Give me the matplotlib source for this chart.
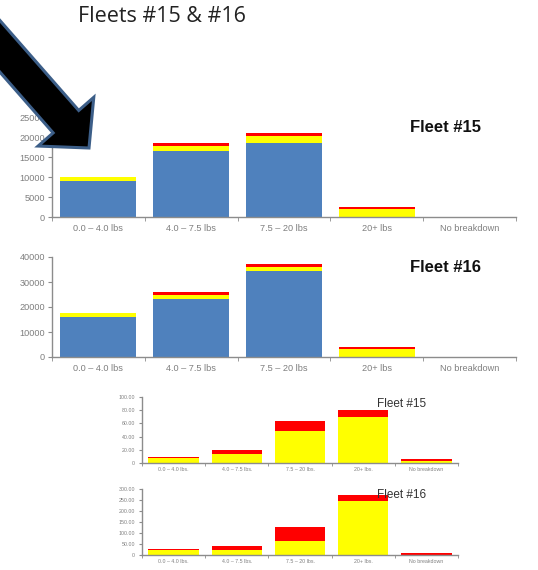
import matplotlib
matplotlib.use("Agg")
import matplotlib.pyplot as plt
import numpy as np
from matplotlib.patches import FancyArrow

# weight classes
classes_big = ["0.0 – 4.0 lbs", "4.0 – 7.5 lbs", "7.5 – 20 lbs", "20+ lbs", "No breakdown"]
classes_small = ["0.0 – 4.0 lbs.", "4.0 – 7.5 lbs.", "7.5 – 20 lbs.", "20+ lbs.", "No breakdown"]

# upper pair: counts
f15_blue = [8900, 16500, 18600, 0, 0]
f15_yellow = [1000, 1300, 1600, 2100, 0]
f15_red = [0, 700, 900, 300, 0]

f16_blue = [16200, 23200, 34500, 0, 0]
f16_yellow = [1300, 1700, 1500, 3300, 0]
f16_red = [0, 1300, 1300, 800, 0]

# lower pair: yellow / red only
f15s_yellow = [7.5, 14, 48.5, 69, 3]
f15s_red = [2, 6, 14.5, 12, 3]

f16s_yellow = [24, 24, 65, 244, 2]
f16s_red = [4, 15, 62, 27, 5]

BLUE, YELLOW, RED = "#4f81bd", "#ffff00", "#ff0000"
AXIS_GREY = "#8c8c8c"
LABEL_GREY = "#7f7f7f"

W, H = 538, 570
fig = plt.figure(figsize=(W / 100, H / 100), dpi=100)
plt.rcParams["font.family"] = ["Liberation Sans", "DejaVu Sans"]


def box(left, top, right, bottom):
    return [left / W, 1 - bottom / H, (right - left) / W, (bottom - top) / H]


def stacked(ax, layers, labels, ymax, step, fmt, fs, width):
    x = np.arange(len(labels))
    bottom = np.zeros(len(labels))
    for vals, col in layers:
        vals = np.array(vals, dtype=float)
        ax.bar(x, vals, width=width, bottom=bottom, color=col, edgecolor="none")
        bottom += vals
    ax.set_xlim(-0.5, len(labels) - 0.5)
    ax.set_ylim(0, ymax)
    yt = np.arange(0, ymax + step / 2, step)
    ax.set_yticks(yt)
    ax.set_yticklabels(["0" if v == 0 else fmt.format(v) for v in yt])
    ax.set_xticks(x)
    ax.set_xticklabels(labels)
    ax.set_xticks(np.arange(-0.5, len(labels)), minor=True)
    ax.tick_params(axis="x", which="major", length=0, labelsize=fs, colors=LABEL_GREY, pad=5)
    ax.tick_params(axis="x", which="minor", length=3, color=AXIS_GREY)
    ax.tick_params(axis="y", length=3, color=AXIS_GREY, labelsize=fs, labelcolor=LABEL_GREY, pad=2)
    for side in ("top", "right"):
        ax.spines[side].set_visible(False)
    for side in ("left", "bottom"):
        ax.spines[side].set_color(AXIS_GREY)
        ax.spines[side].set_linewidth(1.0)


ax1 = fig.add_axes(box(52, 117, 516, 217))
stacked(ax1, [(f15_blue, BLUE), (f15_yellow, YELLOW), (f15_red, RED)],
        classes_big, 25000, 5000, "{:.0f}", 6.6, 0.82)

ax2 = fig.add_axes(box(52, 257, 516, 357))
stacked(ax2, [(f16_blue, BLUE), (f16_yellow, YELLOW), (f16_red, RED)],
        classes_big, 40000, 10000, "{:.0f}", 6.6, 0.82)

ax3 = fig.add_axes(box(142, 397, 458, 463))
stacked(ax3, [(f15s_yellow, YELLOW), (f15s_red, RED)],
        classes_small, 100, 20, "{:.2f}", 3.8, 0.8)

ax4 = fig.add_axes(box(142, 489, 458, 555))
stacked(ax4, [(f16s_yellow, YELLOW), (f16s_red, RED)],
        classes_small, 300, 50, "{:.2f}", 3.8, 0.8)
for ax in (ax3, ax4):
    ax.tick_params(axis="y", length=2, pad=3)
    ax.tick_params(axis="x", which="minor", length=2)
    ax.tick_params(axis="x", which="major", pad=3)

# titles
fig.text(162 / W, 1 - 16 / H, "Fleets #15 & #16", ha="center", va="center",
         fontsize=15.5, color="#222222", family=["Open Sans", "DejaVu Sans"])
fig.text(445 / W, 1 - 127 / H, "Fleet #15", ha="center", va="center",
         fontsize=12, fontweight="bold", color="#111111")
fig.text(445 / W, 1 - 268 / H, "Fleet #16", ha="center", va="center",
         fontsize=12, fontweight="bold", color="#111111")
fig.text(402 / W, 1 - 404 / H, "Fleet #15", ha="center", va="center",
         fontsize=8.5, color="#333333")
fig.text(402 / W, 1 - 495 / H, "Fleet #16", ha="center", va="center",
         fontsize=8.5, color="#333333")

# pointer arrow drawn over the top chart
ov = fig.add_axes([0, 0, 1, 1], zorder=10)
ov.set_xlim(0, W)
ov.set_ylim(H, 0)
ov.axis("off")
ov.patch.set_alpha(0)
tip = np.array([89.0, 148.0])
tail = np.array([-45.0, -5.0])
ov.add_patch(FancyArrow(tail[0], tail[1], *(tip - tail), width=34, head_width=74,
                        head_length=35, length_includes_head=True,
                        facecolor="black", edgecolor="#3c5e88", linewidth=2.2,
                        joinstyle="miter"))

fig.savefig("out.png", dpi=100)
